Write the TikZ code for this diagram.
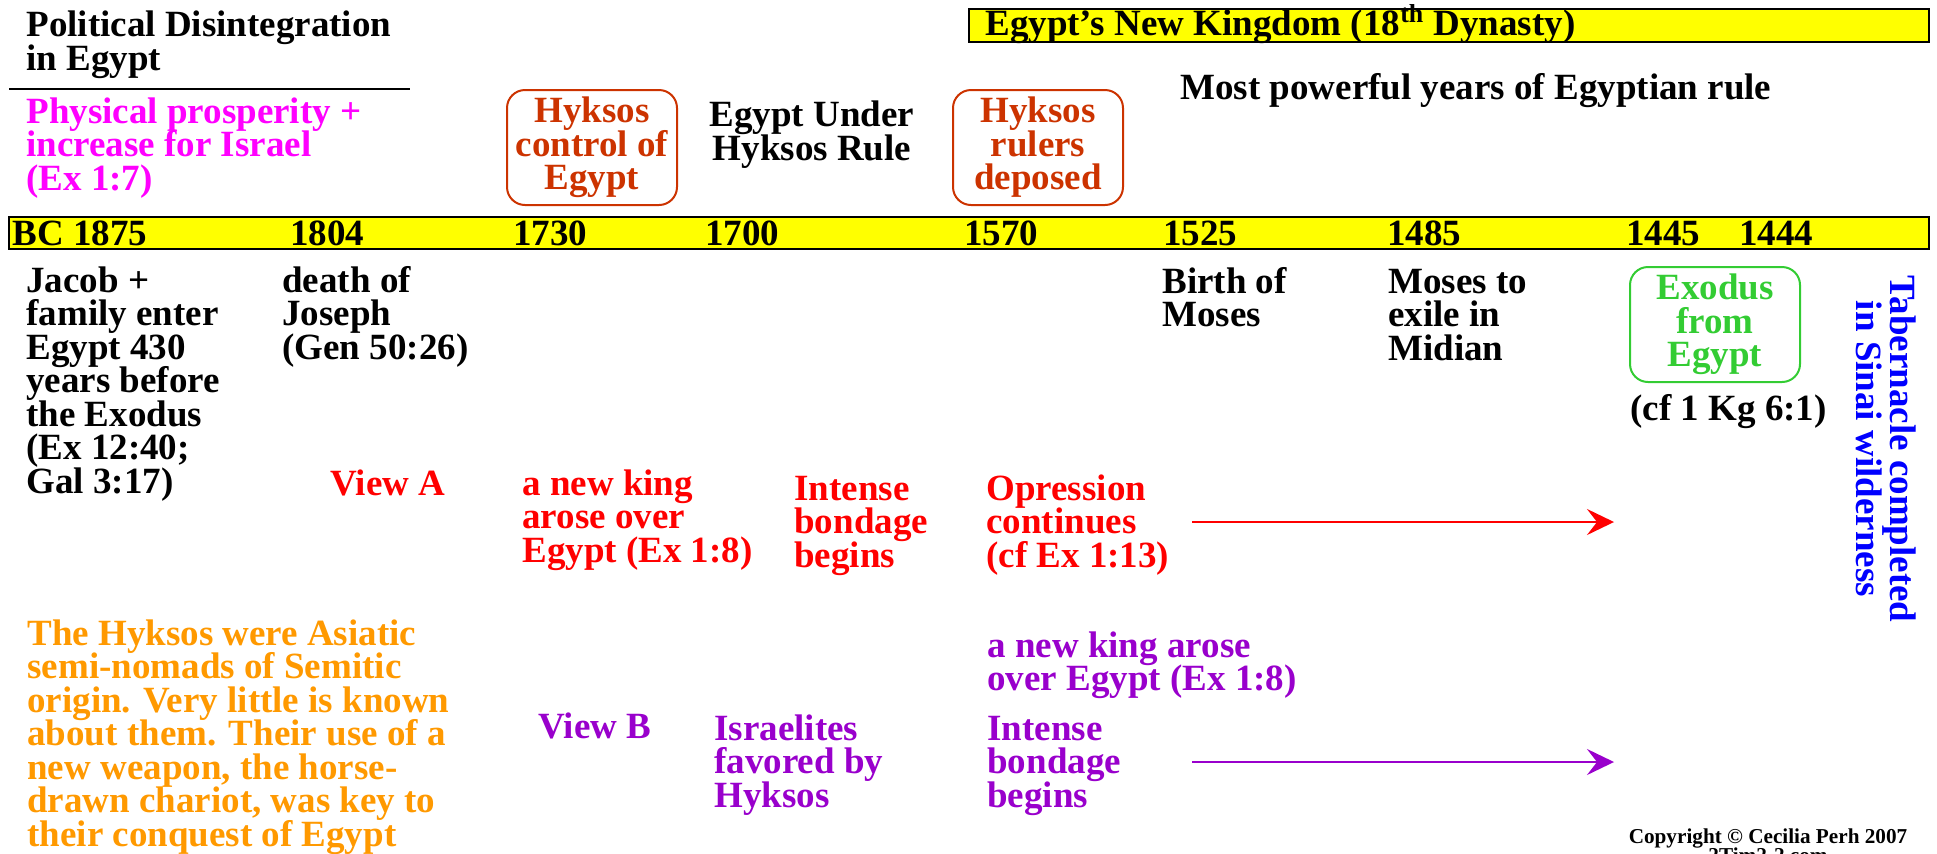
\documentclass[tikz,border=0pt]{standalone}
\usepackage{fontspec}
\setmainfont{Liberation Serif}
\usetikzlibrary{arrows.meta}
\definecolor{hyksos}{RGB}{204,51,0}
\definecolor{viewb}{RGB}{153,0,204}
\definecolor{note}{RGB}{255,153,0}
\definecolor{exodus}{RGB}{51,204,51}
\definecolor{prosper}{RGB}{255,0,255}
\definecolor{band}{RGB}{255,255,0}
\setlength{\lineskiplimit}{-100pt}

\begin{document}
\begin{tikzpicture}[x=0.5pt, y=-0.5pt,
    every node/.style={inner sep=0pt, align=left, font=\fontsize{18.5}{16.75}\selectfont\bfseries},
    txt/.style={anchor = base west},
    ctxt/.style={anchor = base, align=center},
    event/.style={draw=#1, text=#1, line width=1pt, rounded corners=9pt, align=center, minimum width=85pt, minimum height=57.5pt},
    bar/.style={fill=band, draw=black, line width=1.2pt},
    runon/.style={line width=1.3pt, -{Stealth[length=13.5pt, width=13pt, inset=5pt]}}]
    \useasboundingbox (0,0) rectangle (1937,853);

    \node[txt] (title) at (26,70){Political Disintegration\\in Egypt};
    \draw[line width=1pt] (9,89) -- (410,89);
    \node[txt, prosper] (prosper) at (26,190){Physical prosperity +\\increase for Israel\\(Ex 1:7)};

    \node[event=hyksos] (control) at (592,147.5){Hyksos\\control of\\Egypt};
    \node[ctxt] (under) at (812,160){Egypt Under\\Hyksos Rule};
    \node[event=hyksos] (deposed) at (1038,147.5){Hyksos\\rulers\\deposed};

    \draw[bar] (969,9) rectangle (1929,42);
    \node[txt] (kingdom) at (985,35){Egypt’s New Kingdom (18\textsuperscript{th} Dynasty)};
    \node[txt] (powerful) at (1180,99){Most powerful years of Egyptian rule};

    \draw[bar] (9,217) rectangle (1929,249);
    \node[txt] (yr1875) at (12,245){BC 1875};
    \node[txt] (yr1804) at (290,245){1804};
    \node[txt] (yr1730) at (513,245){1730};
    \node[txt] (yr1700) at (705,245){1700};
    \node[txt] (yr1570) at (964,245){1570};
    \node[txt] (yr1525) at (1163,245){1525};
    \node[txt] (yr1485) at (1387,245){1485};
    \node[txt] (yr1445) at (1626,245){1445};
    \node[txt] (yr1444) at (1739,245){1444};

    \node[txt] (jacob) at (26,493){Jacob +\\family enter\\Egypt 430\\years before\\the Exodus\\(Ex 12:40;\\Gal 3:17)};
    \node[txt] (joseph) at (282,359){death of\\Joseph\\(Gen 50:26)};
    \node[txt] (birth) at (1162,326.5){Birth of\\Moses};
    \node[txt] (exile) at (1388,360){Moses to\\exile in\\Midian};
    \node[event=exodus] (exodus) at (1715,324.5){Exodus\\from\\Egypt};
    \node[txt] (kings) at (1630,420){(cf 1 Kg 6:1)};
    \node[blue, rotate=-90, align=center] (tabernacle) at (1886,449){Tabernacle completed\\in Sinai wilderness};

    \node[txt, red] (viewa) at (330,495){View A};
    \node[txt, red] (newking) at (522,562){a new king\\arose over\\Egypt (Ex 1:8)};
    \node[txt, red] (bondage) at (794,567){Intense\\bondage\\begins};
    \node[txt, red] (opression) at (986,567){Opression\\continues\\(cf Ex 1:13)};
    \coordinate (astart) at (1192,522);
    \coordinate (aend) at (1614,522);
    \draw[runon, red] (astart) -- (aend);

    \node[txt, note] (hyksosnote) at (27,846){The Hyksos were Asiatic\\semi-nomads of Semitic\\origin. Very little is known\\about them. Their use of a\\new weapon, the horse-\\drawn chariot, was key to\\their conquest of Egypt};
    \node[txt, viewb] (viewb) at (538,738){View B};
    \node[txt, viewb] (favored) at (714,807){Israelites\\favored by\\Hyksos};
    \node[txt, viewb] (newkingb) at (987,690.5){a new king arose\\over Egypt (Ex 1:8)};
    \node[txt, viewb] (bondageb) at (987,807){Intense\\bondage\\begins};
    \coordinate (bstart) at (1192,762);
    \coordinate (bend) at (1614,762);
    \draw[runon, viewb] (bstart) -- (bend);

    \node[ctxt, font=\fontsize{10.6}{9.5}\selectfont\bfseries] (copyright) at (1768,862){Copyright © Cecilia Perh 2007\\2Tim2-2.com};
\end{tikzpicture}
\end{document}
